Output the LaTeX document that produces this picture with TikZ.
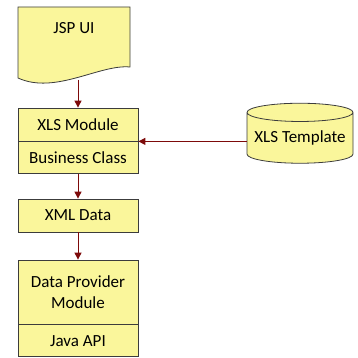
\documentclass[tikz,border=0pt]{standalone}
\usepackage{fontspec}
\setmainfont{Carlito}
\usetikzlibrary{shapes.geometric,arrows.meta}
\definecolor{boxfill}{RGB}{250,246,155}
\definecolor{boxline}{RGB}{60,60,60}
\definecolor{flowred}{RGB}{125,10,10}
\tikzset{
  block/.style={draw=boxline, fill=boxfill, line width=0.8pt, minimum width=120pt,
    inner sep=0pt, align=center, font=\fontsize{17}{21}\selectfont},
  flow/.style={draw=flowred, line width=1pt, -{Triangle[length=7pt,width=7pt]}}
}
\begin{document}
\begin{tikzpicture}[x=1pt,y=-1pt]
  \useasboundingbox (0,0) rectangle (358,358);
  % page shape
  \draw[draw=boxline, fill=boxfill, line width=0.8pt] (18,7) -- (130,7) -- (130,67)
    .. controls (100,64) and (55,95) .. (18,78) -- cycle;
  \node[font=\fontsize{17}{21}\selectfont] (jsp) at (74,28) {JSP UI};
  \coordinate (jspout) at (78,80);

  \node[block, minimum height=33pt] (xls) at (78,124.5) {XLS Module};
  \node[block, minimum height=32pt, anchor=north] (biz) at (xls.south) {Business Class};
  \node[block, minimum height=33pt] (xml) at (78,215.5) {XML Data};
  \node[block, minimum height=64pt] (dpm) at (78,292) {Data Provider\\Module};
  \node[block, minimum height=32pt, anchor=north] (api) at (dpm.south) {Java API};

  \node[cylinder, shape border rotate=90, aspect=0.2, draw=boxline, fill=boxfill,
    line width=0.8pt, minimum width=106pt, minimum height=60pt, inner sep=0pt,
    font=\fontsize{17}{21}\selectfont] (tmpl) at (300,138) {XLS Template};

  \draw[flow] (jspout) -- (xls.north);
  \draw[flow] (biz.south) -- (xml.north);
  \draw[flow] (xml.south) -- (dpm.north);
  \draw[flow] (tmpl.west |- xls.south) -- (xls.south east);
\end{tikzpicture}
\end{document}
